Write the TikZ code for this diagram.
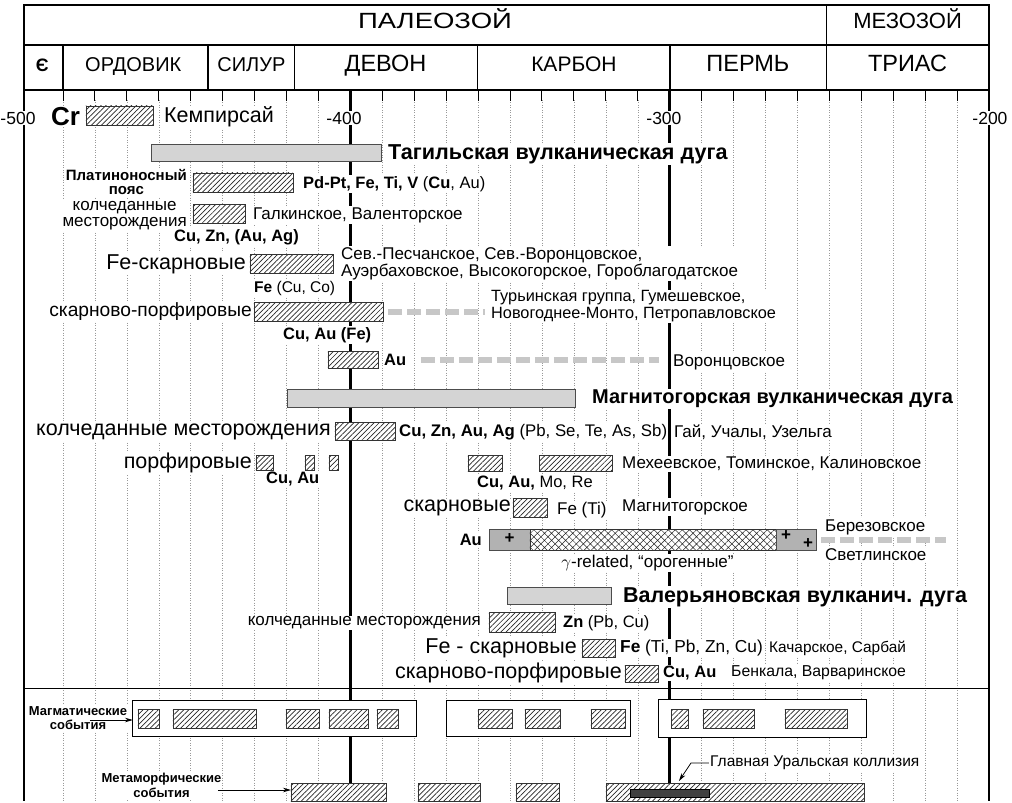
\documentclass[tikz,border=0pt]{standalone}
\usepackage{fontspec}
\setmainfont{Liberation Sans}
\newfontfamily\widefont{Liberation Sans}[FakeStretch=1.25]
\usepackage{tikz}
\usetikzlibrary{patterns.meta}
\usetikzlibrary{arrows.meta}
\newcommand*{\ytop  }{5}
\newcommand*{\ymid  }{45}
\newcommand*{\yaxis }{90}
\newcommand*{\ysep  }{688}
\newcommand*{\ybot  }{801}
\newcommand*{\tleft }{-502.2}
\newcommand*{\tright}{-200}
\newcommand*{\fsz}[2]{\fontsize{#1}{#2}\selectfont}
\newcommand*{\ore}[4]{\draw [ore] (#1,#3) rectangle (#2,#4);}
\newcommand*{\arcbar}[4]{\draw [arcbar] (#1,#3) rectangle (#2,#4);}
\tikzset{
    lbl/.style     = {fill=white, inner sep=1pt},
    hdr/.style     = {text height=0.716em, text depth=0pt, inner sep=0pt},
    big/.style     = {font=\fsz{21.5}{22}},
    elem/.style    = {font=\fsz{16.5}{17}\bfseries},
    ore/.style     = {draw=black!80, line width=0.8pt, preaction={fill=white},
                      pattern={Lines[angle=45, distance=3.6pt, line width=0.7pt]}, pattern color=black!85},
    cross/.style   = {draw=black!80, line width=0.8pt, preaction={fill=white},
                      pattern={Hatch[angle=45, distance=5pt, line width=0.5pt]}, pattern color=black!85},
    arcbar/.style  = {draw=black!70, line width=1pt, fill=black!17},
    granite/.style = {draw=black!70, line width=0.8pt, fill=black!30},
    event/.style   = {draw, line width=1pt, fill=white},
    agegrid/.style = {gray!80, dotted, line width=0.5pt},
    bigline/.style = {line width=2.8pt},
    trend/.style   = {black!22, line width=6pt, dash pattern=on 14pt off 5pt},
    evarrow/.style = {-{Stealth[length=8pt, width=4.5pt]}, line width=0.8pt},
}

\begin{document}
\begin{tikzpicture}[x=3.193pt, y=-1pt, font=\fsz{17}{17}]
    \useasboundingbox (-509.74,0) rectangle (-192.80,802);
    \foreach \age in {-490,-480,...,-210} {
        \draw [agegrid] (\age,100) -- (\age,\ybot);
        \draw [line width=1pt] (\age,\yaxis) -- (\age,101);
    }
    % time scale
    \draw [line width=1.2pt] (\tleft,\ytop) rectangle (\tright,\yaxis);
    \draw [line width=1.2pt] (\tleft,\ymid) -- (\tright,\ymid);
    \draw [line width=1.2pt] (-251,\ytop) -- (-251,\yaxis);
    \foreach \b in {-490,-444.6,-417.6,-360.3,-299.9}
        \draw [line width=1.2pt] (\b,\ymid) -- (\b,\yaxis);
    \node [hdr, font=\widefont\fsz{22}{22}] (paleo) at (-373.5,25) {ПАЛЕОЗОЙ};
    \node [hdr, font=\fsz{22}{22}] (mezo)  at (-225.5,25) {МЕЗОЗОЙ};
    \node [hdr, font=\fsz{18}{18}\bfseries] (kembr) at (-496.5,67.5) {Є};
    \node [hdr, font=\fsz{20}{20}] (ordov) at (-468.0,67.5) {ОРДОВИК};
    \node [hdr, font=\fsz{20}{20}] (silur) at (-431.0,67.5) {СИЛУР};
    \node [hdr, font=\fsz{23.5}{24}] (devon) at (-389.0,67.5) {ДЕВОН};
    \node [hdr, font=\fsz{21}{21}] (karbon) at (-330.0,67.5) {КАРБОН};
    \node [hdr, font=\fsz{23.5}{24}] (perm)  at (-275.5,67.5) {ПЕРМЬ};
    \node [hdr, font=\fsz{23.5}{24}] (trias) at (-225.5,67.5) {ТРИАС};
    \draw [bigline] (\tleft,\yaxis) -- (\tleft,\ybot);
    \draw [bigline] (\tright,\yaxis) -- (\tright,\ybot);
    \draw [bigline] (-400,\yaxis) -- (-400,\ybot);
    \draw [bigline] (-300,\yaxis) -- (-300,\ybot);
    \draw [line width=0.8pt] (\tleft,\ysep) -- (\tright,\ysep);
    \node [lbl, font=\fsz{17.5}{18}] (t500) at (-504.1,118) {-500};
    \node [lbl, font=\fsz{17.5}{18}] (t400) at (-402.0,118) {-400};
    \node [lbl, font=\fsz{17.5}{18}] (t300) at (-301.8,118) {-300};
    \node [lbl, font=\fsz{17.5}{18}] (t200) at (-199.7,118) {-200};
    % Tagil arc
    \node [lbl, anchor=west, font=\fsz{26}{26}\bfseries] (cr) at (-494.08,117) {Cr};
    \ore{-482.81}{-461.82}{106}{125}
    \node [lbl, anchor=west, big] (kempir) at (-458.69,117) {Кемпирсай};
    \arcbar{-462.14}{-390.10}{145}{162}
    \node [lbl, anchor=west, font=\fsz{21.6}{22}\bfseries] (tagil) at (-388.54,154) {Тагильская вулканическая дуга};
    \ore{-449.30}{-417.98}{173}{192}
    \node [lbl, anchor=east, align=center, font=\fsz{15}{14}\bfseries] (platin) at (-450.86,182) {Платиноносный\\пояс};
    \node [lbl, anchor=west, font=\fsz{16.5}{17}] (platinel) at (-415.16,184) {\textbf{Pd-Pt, Fe, Ti, V} (\textbf{Cu}, Au)};
    \ore{-449.30}{-433.01}{204}{223}
    \node [lbl, anchor=east, align=center, font=\fsz{17}{16}] (kolchT) at (-450.86,215.5) {колчеданные\\месторождения};
    \node [lbl, anchor=west] (galk) at (-430.82,215) {Галкинское, Валенторское};
    \node [lbl, anchor=west, elem] (kolchTel) at (-455.56,237) {Cu, Zn, (Au, Ag)};
    \ore{-431.44}{-405.45}{254}{273}
    \node [lbl, anchor=east, big] (feskT) at (-432.38,264) {Fe-скарновые};
    \node [lbl, anchor=west, align=left] (feskTd) at (-403.26,263.5) {Сев.-Песчанское, Сев.-Воронцовское,\\Ауэрбаховское, Высокогорское, Гороблагодатское};
    \node [lbl, anchor=west, font=\fsz{15.5}{16}] (feskTel) at (-430.50,288) {\textbf{Fe} (Cu, Co)};
    \ore{-430.19}{-389.79}{302}{321}
    \node [lbl, anchor=east, font=\fsz{19.2}{20}] (skpT) at (-430.50,312) {скарново-порфировые};
    \node [lbl, anchor=west, align=left, font=\fsz{16.3}{17}] (skpTd) at (-356.28,306.5) {Турьинская группа, Гумешевское,\\Новогоднее-Монто, Петропавловское};
    \coordinate (skpTa) at (-388.22,312);
    \coordinate (skpTb) at (-357.84,312);
    \draw [trend] (skpTa) -- (skpTb);
    \node [lbl, anchor=west, elem] (skpTel) at (-421.42,335) {Cu, Au (Fe)};
    \ore{-407.02}{-391.36}{351}{368}
    \node [lbl, anchor=west, elem] (auT) at (-389.79,360) {Au};
    \coordinate (auTa) at (-377.89,360);
    \coordinate (auTb) at (-303.35,360);
    \draw [trend] (auTa) -- (auTb);
    \node [lbl, anchor=west] (voron) at (-299.28,362) {Воронцовское};
    % Magnitogorsk arc
    \arcbar{-419.54}{-329.35}{389}{407}
    \node [lbl, anchor=west, font=\fsz{20}{21}\bfseries] (magn) at (-324.65,399) {Магнитогорская вулканическая дуга};
    \ore{-404.82}{-386.03}{422}{440}
    \node [lbl, anchor=east, big] (kolchM) at (-405.76,432) {колчеданные месторождения};
    \node [lbl, anchor=west, font=\fsz{16.8}{17}] (kolchMel) at (-385.09,432) {\textbf{Cu, Zn, Au, Ag} (Pb, Se, Te, As, Sb)};
    \node [lbl, anchor=west] (kolchMd) at (-298.97,432) {Гай, Учалы, Узельга};
    \node [lbl, anchor=east, big] (porfM) at (-430.50,463) {порфировые};
    \ore{-429.56}{-424.24}{455}{470}
    \ore{-414.22}{-411.40}{455}{470}
    \ore{-406.70}{-403.88}{455}{470}
    \node [lbl, anchor=west, elem] (porfMel) at (-426.75,479) {Cu, Au};
    \ore{-363.17}{-352.52}{455}{471}
    \ore{-340.93}{-318.07}{455}{471}
    \node [lbl, anchor=west] (porfCd) at (-315.25,464) {Мехеевское, Томинское, Калиновское};
    \node [lbl, anchor=west, font=\fsz{16.5}{17}] (porfCel) at (-360.66,483) {\textbf{Cu, Au,} Mo, Re};
    \ore{-349.08}{-338.43}{498}{517}
    \node [lbl, anchor=east, big] (skM) at (-349.39,508) {скарновые};
    \node [lbl, anchor=west] (skMel) at (-335.61,510) {Fe (Ti)};
    \node [lbl, anchor=west] (skMd) at (-315.25,507) {Магнитогорское};
    % granites
    \node [lbl, anchor=east, elem] (auG) at (-358.47,540) {Au};
    \draw [granite] (-356.59,529) rectangle (-343.75,550);
    \draw [cross] (-343.75,529) rectangle (-266.71,550);
    \draw [granite] (-266.71,529) rectangle (-254.18,550);
    \node [font=\fsz{17}{17}\bfseries] (plusA) at (-350.17,539) {+};
    \node [font=\fsz{17}{17}\bfseries] (plusB) at (-263.58,536) {+};
    \node [font=\fsz{17}{17}\bfseries] (plusC) at (-256.69,544) {+};
    \node [lbl, anchor=west] (berez) at (-251.68,527) {Березовское};
    \node [lbl, anchor=west] (svetl) at (-251.68,555) {Светлинское};
    \coordinate (grA) at (-252.61,540);
    \coordinate (grB) at (-213.47,540);
    \draw [trend] (grA) -- (grB);
    \node [lbl] (gamma) at (-306.95,563) {$\gamma$-related, “орогенные”};
    % Valerianovsk arc
    \arcbar{-350.64}{-318.07}{587}{604}
    \node [lbl, anchor=west, font=\fsz{21.5}{22}\bfseries] (valer) at (-314.94,597) {Валерьяновская вулканич. дуга};
    \ore{-356.59}{-335.92}{612}{632}
    \node [lbl, anchor=east] (kolchV) at (-358.79,623) {колчеданные месторождения};
    \node [lbl, anchor=west, font=\fsz{16.5}{17}] (kolchVel) at (-333.73,623) {\textbf{Zn} (Pb, Cu)};
    \ore{-327.47}{-317.13}{639}{657}
    \node [lbl, anchor=east, big] (feskV) at (-328.72,648) {Fe - скарновые};
    \node [lbl, anchor=west, font=\fsz{17.3}{17}] (feskVel) at (-315.88,648) {\textbf{Fe} (Ti, Pb, Zn, Cu)};
    \node [lbl, anchor=west, font=\fsz{15.4}{16}] (feskVd) at (-269.21,648) {Качарское, Сарбай};
    \ore{-314.00}{-303.66}{665}{682}
    \node [lbl, anchor=east, big] (skpV) at (-314.63,673) {скарново-порфировые};
    \node [lbl, anchor=west, elem] (skpVel) at (-302.41,673) {Cu, Au};
    \node [lbl, anchor=west, font=\fsz{15.8}{16}] (skpVd) at (-281.11,673) {Бенкала, Варваринское};
    % events
    \draw [event] (-468.09,700) rectangle (-379.14,736);
    \draw [event] (-369.75,700) rectangle (-312.12,736);
    \draw [event] (-303.66,699) rectangle (-238.21,737);
    \foreach \a/\b in {-466.52/-459.94, -455.56/-429.56, -420.17/-409.83, -406.70/-394.49,
                       -391.67/-385.09, -360.04/-349.39, -345.32/-334.36, -324.65/-314.00,
                       -299.59/-294.27, -289.57/-273.60, -263.89/-244.47}
        \ore{\a}{\b}{709}{728}
    \node [lbl, align=center, font=\fsz{13}{14}\bfseries] (magmlab) at (-485.31,718) {Магматические\\события};
    \coordinate (magmA) at (-481.55,720);
    \coordinate (magmB) at (-468.09,720);
    \draw [evarrow] (magmA) -- (magmB);
    \foreach \a/\b in {-418.60/-388.85, -378.83/-359.41, -348.14/-334.67, -319.95/-239.15}
        \ore{\a}{\b}{783}{\ybot}
    \draw [fill=black!75, line width=0.8pt] (-312.43,789) rectangle (-287.69,797);
    \node [lbl, align=center, font=\fsz{13}{15}\bfseries] (metamlab) at (-459.16,785.5) {Метаморфические\\события};
    \coordinate (metamA) at (-441.47,790);
    \coordinate (metamB) at (-418.60,790);
    \draw [evarrow] (metamA) -- (metamB);
    \node [lbl, anchor=west, font=\fsz{15.5}{16}] (collis) at (-287.69,763) {Главная Уральская коллизия};
    \coordinate (collisB) at (-293.33,763);
    \coordinate (collisC) at (-297.09,781);
    \draw [evarrow] (collis.west) -- (collisB) -- (collisC);
\end{tikzpicture}
\end{document}
